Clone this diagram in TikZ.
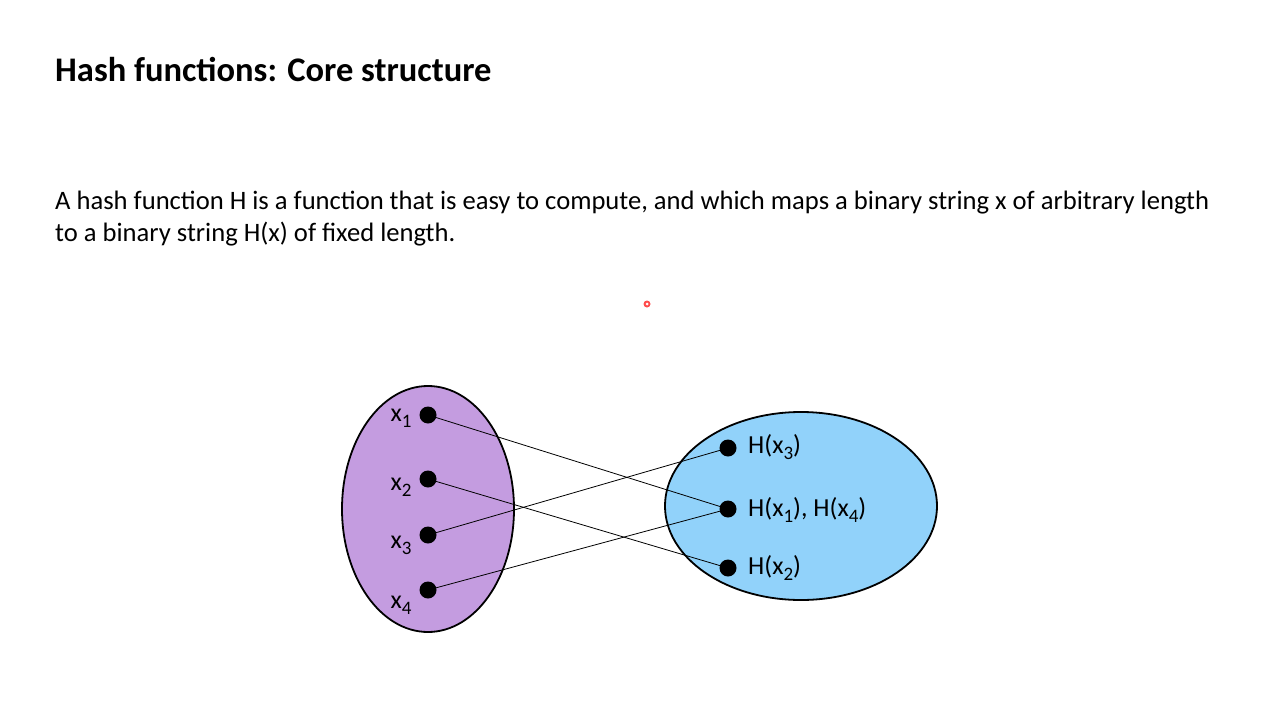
\documentclass[tikz,border=0pt]{standalone}
\usepackage{fontspec}
\setmainfont{Carlito}
\newcommand{\subidx}[1]{\raisebox{-6pt}{\fontsize{19}{19}\selectfont #1}}
\begin{document}
\begin{tikzpicture}[x=1pt,y=-1pt,
  pt/.style={circle,fill=black,inner sep=0pt,minimum size=17pt},
  lbl/.style={font=\fontsize{26}{26}\selectfont,inner sep=0pt},
  arr/.style={-latex,line width=0.8pt,shorten <=2pt,shorten >=1pt}]
\useasboundingbox (0,0) rectangle (1280,720);
\node[anchor=west,font=\bfseries\fontsize{34.5}{34.5}\selectfont,inner sep=0pt] (title) at (55,69) {Hash functions: Core structure};
\node[anchor=north west,align=left,font=\fontsize{26.6}{32}\selectfont,inner sep=0pt] (body) at (55,191)
 {A hash function H is a function that is easy to compute, and which maps a binary string x of arbitrary length\\
  to a binary string H(x) of fixed length.};
\fill[red!70] (647,304) circle (3.5);
\fill[white] (647,304) circle (1.5);
\draw[line width=1.8pt,fill={rgb,255:red,196;green,156;blue,224}] (428,509) ellipse (86 and 123);
\draw[line width=1.8pt,fill={rgb,255:red,145;green,210;blue,250}] (801,506) ellipse (136 and 94);
\node[pt] (a1) at (428,415) {};
\node[pt] (a2) at (428,479) {};
\node[pt] (a3) at (428,535) {};
\node[pt] (a4) at (428,590) {};
\node[pt] (b3) at (728,448) {};
\node[pt] (b1) at (728,509) {};
\node[pt] (b2) at (728,568) {};
\node[lbl] (la1) at (401,418) {x\subidx{1}};
\node[lbl] (la2) at (401,487) {x\subidx{2}};
\node[lbl] (la3) at (401,545) {x\subidx{3}};
\node[lbl] (la4) at (401,605) {x\subidx{4}};
\node[lbl,anchor=west] (lb3) at (748,447) {H(x\subidx{3})};
\node[lbl,anchor=west] (lb1) at (748,510) {H(x\subidx{1}), H(x\subidx{4})};
\node[lbl,anchor=west] (lb2) at (748,568) {H(x\subidx{2})};
\draw[arr] (a1.center) -- (b1.center);
\draw[arr] (a2.center) -- (b2.center);
\draw[arr] (a3.center) -- (b3.center);
\draw[arr] (a4.center) -- (b1.center);
\end{tikzpicture}
\end{document}
